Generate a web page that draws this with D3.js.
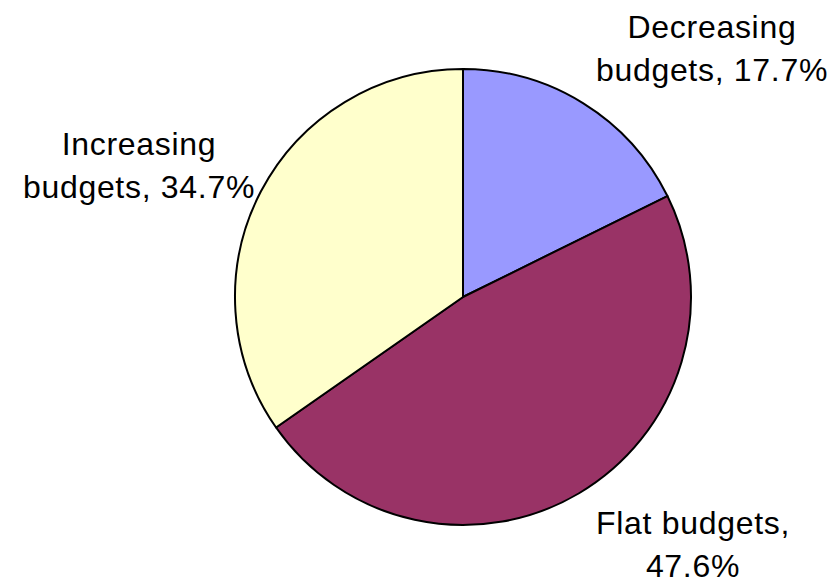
<!DOCTYPE html>
<html><head><meta charset="utf-8">
<script src="https://cdn.jsdelivr.net/npm/d3@7"></script>
<style>body{margin:0;background:#fff}</style>
</head><body>
<svg id="c" width="835" height="585"></svg>
<script>
const categories = ["Decreasing budgets", "Flat budgets", "Increasing budgets"];
const values = [17.7, 47.6, 34.7];
const colors = ["#9999FF", "#993366", "#FFFFCC"];
const labelLines = [["Decreasing", "budgets, 17.7%"], ["Flat budgets,", "47.6%"], ["Increasing", "budgets, 34.7%"]];
const labelPos = [[712, 38], [693, 534], [139, 155]];

const svg = d3.select("#c");
const cx = 463, cy = 297, r = 228;
const data = categories.map((c, i) => ({cat: c, value: values[i], i}));
const pie = d3.pie().value(d => d.value).sort(null);
const arc = d3.arc().innerRadius(0).outerRadius(r);
const g = svg.append("g").attr("transform", `translate(${cx},${cy})`);
g.selectAll("path").data(pie(data)).join("path")
  .attr("d", arc).attr("fill", d => colors[d.data.i])
  .attr("stroke", "#000").attr("stroke-width", 2).attr("stroke-linejoin", "round");

data.forEach((d, i) => {
  const t = svg.append("text").attr("text-anchor", "middle")
    .attr("font-family", "Arial, 'Liberation Sans', sans-serif").attr("font-size", 32)
    .attr("letter-spacing", 0.7).attr("fill", "#000");
  labelLines[i].forEach((ln, j) => {
    t.append("tspan").attr("x", labelPos[i][0]).attr("y", labelPos[i][1] + j * 43).text(ln);
  });
});
</script>
</body></html>
